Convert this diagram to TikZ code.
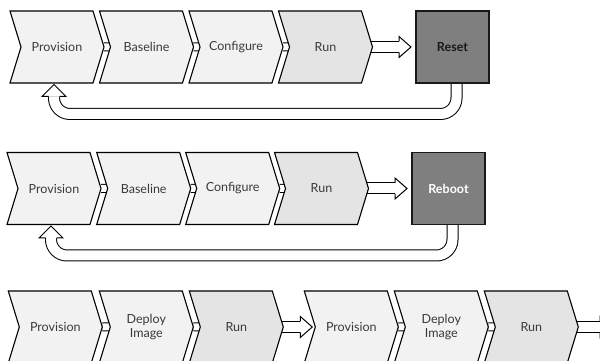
\documentclass[tikz,border=0pt]{standalone}
\usepackage{fontspec}
\setmainfont{Lato}
\usetikzlibrary{shapes.symbols, calc, backgrounds}
\definecolor{stepfill}{HTML}{F2F2F2}
\definecolor{runfill}{HTML}{E4E4E4}
\definecolor{endfill}{HTML}{7F7F7F}
\definecolor{labelgray}{HTML}{3A3A3A}

\tikzset{
  chev/.style={draw, signal, signal from=west, signal to=east, signal pointer angle=146,
    minimum width=94pt, minimum height=72pt, inner sep=0pt, outer sep=0pt, line width=1.1pt,
    fill=stepfill, text=labelgray, font=\fontsize{12.5}{14}\selectfont, align=center},
  runchev/.style={chev, fill=runfill},
  endbox/.style={draw=black!90, line width=1.4pt, fill=endfill, minimum width=73pt,
    minimum height=72pt, inner sep=0pt, outer sep=0pt, font=\bfseries\fontsize{12.5}{14}\selectfont},
  link/.style={draw=black, line width=1pt, double=white, double distance=7pt},
  fat/.style={draw=black, line width=1pt, double=white, double distance=10pt},
  hollowhead/.style={draw=black, line width=1pt, fill=white}
}

\begin{document}
\begin{tikzpicture}[x=1pt, y=1pt]
    \path[use as bounding box, clip] (0,0) rectangle (600,361);

    \node[chev] (prov1) at (57,314) {Provision};
    \node[chev] (base1) at (146.5,314) {Baseline};
    \node[chev] (conf1) at (236,314) {Configure};
    \node[runchev] (run1) at (325.5,314) {Run};
    \node[endbox, text=black!90] (reset) at (452.5,314) {Reset};

    \node[chev] (prov2) at (54,172.5) {Provision};
    \node[chev] (base2) at (143.7,172.5) {Baseline};
    \node[chev] (conf2) at (232.7,172.5) {Configure};
    \node[runchev] (run2) at (321.5,172.5) {Run};
    \node[endbox, text=white] (reboot) at (448.5,172.5) {Reboot};

    \node[chev] (prov3) at (55.3,34) {Provision};
    \node[chev] (deploy3) at (146.3,34) {Deploy\\Image};
    \node[runchev] (run3) at (236.3,34) {Run};
    \node[chev] (prov4) at (351.3,34) {Provision};
    \node[chev] (deploy4) at (441.3,34) {Deploy\\Image};
    \node[runchev] (run4) at (531.3,34) {Run};
    \coordinate (exit) at (612,34);

    \begin{scope}[on background layer]
        \draw[link] (prov1) -- (base1);
        \draw[link] (base1) -- (conf1);
        \draw[link] (conf1) -- (run1);
        \draw[fat] (run1.center) -- ($(reset.west)+(-17,0)$);
        \draw[fat, rounded corners=16pt] ($(reset.south)+(4,2)$) -- ($(reset.south)+(4,-31)$) -| ($(prov1.south)+(-3,-13.5)$);

        \draw[link] (prov2) -- (base2);
        \draw[link] (base2) -- (conf2);
        \draw[link] (conf2) -- (run2);
        \draw[fat] (run2.center) -- ($(reboot.west)+(-17,0)$);
        \draw[fat, rounded corners=16pt] ($(reboot.south)+(4,2)$) -- ($(reboot.south)+(4,-31)$) -| ($(prov2.south)+(-3,-13.5)$);

        \draw[link] (prov3) -- (deploy3);
        \draw[link] (deploy3) -- (run3);
        \draw[fat] (run3.center) -- ($(prov4.center)+(-51,0)$);
        \draw[link] (prov4) -- (deploy4);
        \draw[link] (deploy4) -- (run4);
        \draw[fat] (run4.center) -- ($(exit)+(-12,0)$);
    \end{scope}

    \draw[hollowhead] ($(reset.west)+(-17,5.5)$) -- ++(0,5) -- ($(reset.west)+(-5,0)$) -- ($(reset.west)+(-17,-10.5)$) -- ++(0,5);
    \draw[hollowhead] ($(prov1.south)+(2.5,-13.5)$) -- ++(6.5,0) -- ($(prov1.south)+(-3,-1.5)$) -- ($(prov1.south)+(-15,-13.5)$) -- ++(6.5,0);

    \draw[hollowhead] ($(reboot.west)+(-17,5.5)$) -- ++(0,5) -- ($(reboot.west)+(-5,0)$) -- ($(reboot.west)+(-17,-10.5)$) -- ++(0,5);
    \draw[hollowhead] ($(prov2.south)+(2.5,-13.5)$) -- ++(6.5,0) -- ($(prov2.south)+(-3,-1.5)$) -- ($(prov2.south)+(-15,-13.5)$) -- ++(6.5,0);

    \draw[hollowhead] ($(prov4.center)+(-51,5.5)$) -- ++(0,5) -- ($(prov4.center)+(-39,0)$) -- ($(prov4.center)+(-51,-10.5)$) -- ++(0,5);
    \draw[hollowhead] ($(exit)+(-12,5.5)$) -- ++(0,5) -- (exit) -- ($(exit)+(-12,-10.5)$) -- ++(0,5);
\end{tikzpicture}
\end{document}
